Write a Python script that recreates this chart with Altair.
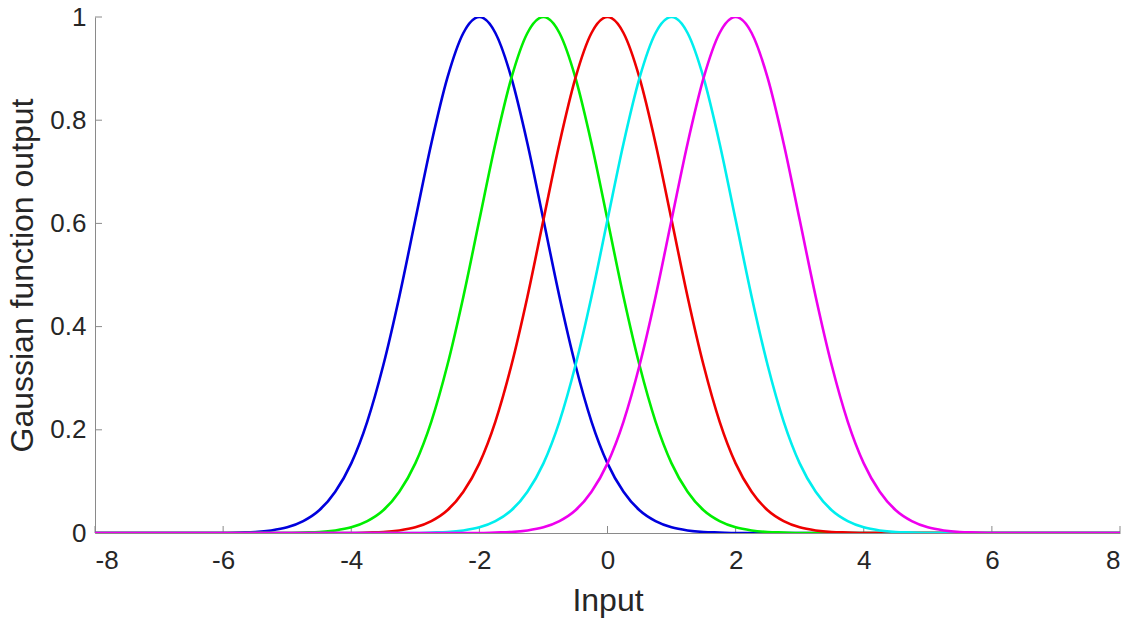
import altair as alt
import pandas as pd

# Sampled input positions
x_vals = [-8, -6, -5.75, -5.5, -5.25, -5, -4.75, -4.5, -4.25, -4, -3.75, -3.5, -3.25,
          -3, -2.75, -2.5, -2.25, -2, -1.75, -1.5, -1.25, -1, -0.75, -0.5, -0.25,
          0, 0.25, 0.5, 0.75, 1, 1.25, 1.5, 1.75, 2, 2.25, 2.5, 2.75, 3, 3.25,
          3.5, 3.75, 4, 4.25, 4.5, 4.75, 5, 5.25, 5.5, 5.75, 6, 8]

# Gaussian outputs (centres -2, -1, 0, 1, 2)
blue = [0,
        0, 0.001, 0.002, 0.005, 0.011, 0.023, 0.044, 0.08, 0.135, 0.216, 0.325,
        0.458, 0.607, 0.755, 0.882, 0.969, 1, 0.969, 0.882, 0.755, 0.607, 0.458,
        0.325, 0.216, 0.135, 0.08, 0.044, 0.023, 0.011, 0.005, 0.002, 0.001, 0,
        0, 0, 0, 0, 0, 0, 0, 0, 0, 0, 0, 0, 0, 0, 0, 0, 0]
green = [0, 0, 0, 0, 0,
         0, 0.001, 0.002, 0.005, 0.011, 0.023, 0.044, 0.08, 0.135, 0.216, 0.325,
         0.458, 0.607, 0.755, 0.882, 0.969, 1, 0.969, 0.882, 0.755, 0.607, 0.458,
         0.325, 0.216, 0.135, 0.08, 0.044, 0.023, 0.011, 0.005, 0.002, 0.001, 0,
         0, 0, 0, 0, 0, 0, 0, 0, 0, 0, 0, 0, 0]
red = [0, 0, 0, 0, 0, 0, 0, 0, 0,
       0, 0.001, 0.002, 0.005, 0.011, 0.023, 0.044, 0.08, 0.135, 0.216, 0.325,
       0.458, 0.607, 0.755, 0.882, 0.969, 1, 0.969, 0.882, 0.755, 0.607, 0.458,
       0.325, 0.216, 0.135, 0.08, 0.044, 0.023, 0.011, 0.005, 0.002, 0.001, 0,
       0, 0, 0, 0, 0, 0, 0, 0, 0]
cyan = [0, 0, 0, 0, 0, 0, 0, 0, 0, 0, 0, 0, 0,
        0, 0.001, 0.002, 0.005, 0.011, 0.023, 0.044, 0.08, 0.135, 0.216, 0.325,
        0.458, 0.607, 0.755, 0.882, 0.969, 1, 0.969, 0.882, 0.755, 0.607, 0.458,
        0.325, 0.216, 0.135, 0.08, 0.044, 0.023, 0.011, 0.005, 0.002, 0.001, 0,
        0, 0, 0, 0, 0]
magenta = [0, 0, 0, 0, 0, 0, 0, 0, 0, 0, 0, 0, 0, 0, 0, 0, 0,
           0, 0.001, 0.002, 0.005, 0.011, 0.023, 0.044, 0.08, 0.135, 0.216, 0.325,
           0.458, 0.607, 0.755, 0.882, 0.969, 1, 0.969, 0.882, 0.755, 0.607, 0.458,
           0.325, 0.216, 0.135, 0.08, 0.044, 0.023, 0.011, 0.005, 0.002, 0.001, 0,
           0]

series_names = ["c-2", "c-1", "c0", "c1", "c2"]
series_vals = [blue, green, red, cyan, magenta]
series_colors = ["#0000dd", "#00ee00", "#ee0000", "#00eeee", "#ee00ee"]

x_ticks = [-8, -6, -4, -2, 0, 2, 4, 6, 8]
y_ticks = [0, 0.2, 0.4, 0.6, 0.8, 1]

rows = []
for order, (name, vals) in enumerate(zip(series_names, series_vals)):
    for xv, yv in zip(x_vals, vals):
        rows.append({"x": xv, "y": yv, "s": name, "o": order})
df = pd.DataFrame(rows)

W, H = 1025, 516
FONT = "Liberation Sans"
AX = "#8a8a8a"

xscale = alt.Scale(domain=[-8, 8], nice=False, zero=False)
yscale = alt.Scale(domain=[0, 1], nice=False)

lines = alt.Chart(df).mark_line(strokeWidth=2.6, interpolate="monotone", clip=True).encode(
    x=alt.X("x:Q", scale=xscale,
            axis=alt.Axis(title="Input", values=x_ticks, ticks=False,
                          labelExpr="toString(datum.value)",
                          grid=False, labelPadding=14, titlePadding=12)),
    y=alt.Y("y:Q", scale=yscale,
            axis=alt.Axis(title="Gaussian function output", values=y_ticks,
                          ticks=False, grid=False, labelPadding=9, titlePadding=10,
                          labelExpr="toString(datum.value)")),
    color=alt.Color("s:N", scale=alt.Scale(domain=series_names, range=series_colors), legend=None),
    order=alt.Order("o:Q"),
)

xt = pd.DataFrame({"t": x_ticks})
yt = pd.DataFrame({"t": y_ticks})
xtick_rules = alt.Chart(xt).mark_rule(color=AX, strokeWidth=1).encode(
    x=alt.X("t:Q", scale=xscale), y=alt.value(H), y2=alt.value(H - 7))
ytick_rules = alt.Chart(yt).mark_rule(color=AX, strokeWidth=1).encode(
    y=alt.Y("t:Q", scale=yscale), x=alt.value(0), x2=alt.value(7))

chart = alt.layer(xtick_rules, ytick_rules, lines).properties(
    width=W, height=H,
    background="white",
    autosize=alt.AutoSizeParams(type="none"),
    padding={"left": 95, "top": 17, "right": 21, "bottom": 91},
).configure_view(stroke=None).configure_axis(
    domainColor=AX, domainWidth=1,
    labelFont=FONT, labelFontSize=26, labelColor="#262626",
    titleFont=FONT, titleFontSize=32, titleColor="#262626", titleFontWeight="normal",
)

chart.save("out.html", embed_options={"renderer": "svg", "actions": False})
